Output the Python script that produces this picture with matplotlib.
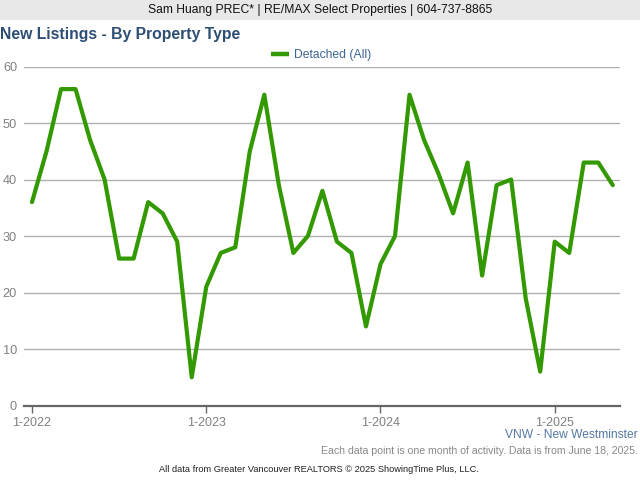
import matplotlib
matplotlib.use('Agg')
import matplotlib.pyplot as plt
from matplotlib.lines import Line2D
from matplotlib.patches import Rectangle

plt.rcParams['font.family'] = ['Liberation Sans', 'DejaVu Sans']

# monthly new listings, 1-2022 to 5-2025
listings = [36, 45, 56, 56, 47, 40, 26, 26, 36, 34, 29, 5,
            21, 27, 28, 45, 55, 39, 27, 30, 38, 29, 27, 14,
            25, 30, 55, 47, 41, 34, 43, 23, 39, 40, 19, 6,
            29, 27, 43, 43, 39]
tick_months = [0, 12, 24, 36]
tick_labels = ['1-2022', '1-2023', '1-2024', '1-2025']
y_ticks = [0, 10, 20, 30, 40, 50, 60]

W, H = 640, 480
GREEN = '#339900'

fig = plt.figure(figsize=(W / 100, H / 100), dpi=100)

# plot area in pixels
left, right, top, bottom = 24, 620, 66.5, 405.5
ax = fig.add_axes([left / W, 1 - bottom / H, (right - left) / W, (bottom - top) / H])

month_px = 14.52
ax.set_xlim((left - 32) / month_px, (right - 32) / month_px)
ax.set_ylim(0, 60)

ax.plot(range(len(listings)), listings, color=GREEN, linewidth=3,
        solid_joinstyle='round', solid_capstyle='round', clip_on=False, zorder=3)

ax.set_yticks(y_ticks)
ax.set_xticks(tick_months)
ax.set_xticklabels(tick_labels)
ax.grid(axis='y', color='#b0b0b0', linewidth=1)
ax.grid(axis='x', visible=False)
ax.set_axisbelow(True)

for name in ['top', 'right', 'left']:
    ax.spines[name].set_visible(False)
ax.spines['bottom'].set_color('#666666')
ax.spines['bottom'].set_linewidth(1.6)

ax.tick_params(axis='y', length=0, pad=5, labelsize=9.2, labelcolor='#808080')
ax.tick_params(axis='x', length=5, width=1, color='#666666', pad=3, labelsize=9, labelcolor='#808080')

# header band
fig.patches.append(Rectangle((0, 1 - 20 / H), 1, 20 / H, transform=fig.transFigure,
                             facecolor='#e8e8e8', edgecolor='none'))
fig.text(320 / W, 1 - 10.5 / H, 'Sam Huang PREC* | RE/MAX Select Properties | 604-737-8865',
         ha='center', va='center', fontsize=8.7, color='#111111')

fig.text(0, 1 - 34.5 / H, 'New Listings - By Property Type', ha='left', va='center',
         fontsize=11.35, fontweight='bold', color='#2d4f73')

# legend, swatch is thicker than the line
handle = Line2D([], [], color=GREEN, linewidth=3.2, solid_capstyle='butt')
fig.legend(handles=[handle], labels=['Detached (All)'], loc='center',
           bbox_to_anchor=(321 / W, 1 - 55 / H), frameon=False,
           fontsize=8.7, labelcolor='#3c6496', handlelength=1.45, handletextpad=0.4)

fig.text(638 / W, 1 - 435.5 / H, 'VNW - New Westminster', ha='right', va='center',
         fontsize=8.67, color='#5577a3')
fig.text(638 / W, 1 - 451.5 / H, 'Each data point is one month of activity. Data is from June 18, 2025.',
         ha='right', va='center', fontsize=7.57, color='#888888')
fig.text(319 / W, 1 - 470 / H, 'All data from Greater Vancouver REALTORS © 2025 ShowingTime Plus, LLC.',
         ha='center', va='center', fontsize=6.7, color='#222222')

fig.savefig('out.png', dpi=100)
